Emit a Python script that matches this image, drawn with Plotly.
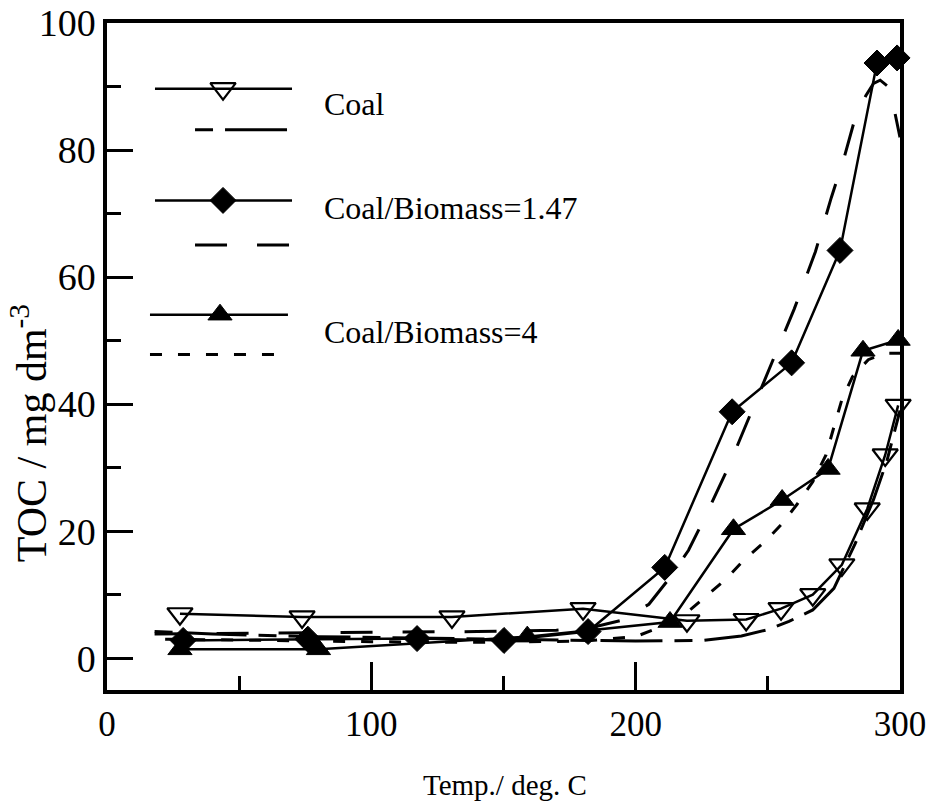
import plotly.graph_objects as go

# ---- measured TOC (solid lines with markers) ----
coal_T = [27.6, 73.8, 130.5, 180.1, 219.4, 241.8, 255.0, 267.0, 278.0, 287.6, 294.4, 299.3]
coal_toc = [7.0, 6.5, 6.5, 7.8, 5.9, 6.1, 7.8, 10.0, 14.7, 23.5, 32.0, 39.8]

b147_T = [28.8, 76.0, 117.3, 150.2, 182.0, 211.0, 236.5, 259.0, 277.3, 291.3, 298.9]
b147_toc = [2.8, 3.0, 3.1, 2.8, 4.2, 14.3, 38.8, 46.5, 64.2, 93.7, 94.5]

b4_T = [27.6, 80.0, 159.0, 213.0, 237.0, 255.4, 272.8, 286.0, 299.3]
b4_toc = [1.4, 1.4, 3.4, 5.7, 20.3, 24.9, 29.8, 48.4, 50.1]

# ---- model curves (dashed) ----
coal_mod_T = [18, 40, 80, 120, 160, 200, 225, 240, 250, 258, 267, 275, 283, 290, 295, 300]
coal_mod_toc = [4.2, 3.8, 3.4, 3.2, 3.0, 2.7, 2.8, 3.5, 4.5, 5.8, 7.6, 11.0, 18.0, 25.0, 31.0, 39.0]

b147_mod_T = [18, 60, 100, 140, 170, 185, 195, 205, 213, 220, 226, 235, 244, 253, 260, 268,
              274, 279, 283, 287, 290, 292.5, 295.5, 297.5, 300]
b147_mod_toc = [3.8, 4.0, 4.1, 4.2, 4.4, 5.0, 6.0, 8.5, 12.7, 17.0, 22.0, 30.0, 39.0, 48.0, 55.0, 64.0,
                72.5, 79.0, 85.0, 88.5, 90.5, 91.0, 90.0, 87.0, 82.0]

b4_mod_T = [22, 60, 100, 140, 180, 200, 210, 220, 226, 234, 241, 249, 255, 261, 267, 272,
            275, 278, 282, 288, 294, 300]
b4_mod_toc = [3.0, 2.8, 2.6, 2.5, 2.7, 3.4, 5.0, 7.4, 9.6, 12.4, 15.5, 18.4, 21.0, 24.2, 27.8, 32.0,
              36.4, 40.7, 44.3, 47.0, 48.0, 48.0]

x_ticks = [0, 100, 200, 300]
y_ticks = [0, 20, 40, 60, 80, 100]

legend_names = ["Coal", "Coal/Biomass=1.47", "Coal/Biomass=4"]

FONT = "Liberation Serif, Times New Roman, serif"
BLACK = "black"

DASH_COAL = "18px,12px,62px,12px"
DASH_147 = "32px,30px"
DASH_4 = "12px,16px"

SYM_COAL = dict(symbol="triangle-down-open", size=22, color=BLACK, line=dict(width=2.2, color=BLACK))
SYM_147 = dict(symbol="diamond", size=20, color=BLACK, line=dict(width=1, color=BLACK))
SYM_4 = dict(symbol="triangle-up", size=21, color=BLACK, line=dict(width=1, color=BLACK))

fig = go.Figure()

# model curves
for T, v, dash in [(coal_mod_T, coal_mod_toc, DASH_COAL),
                   (b147_mod_T, b147_mod_toc, DASH_147),
                   (b4_mod_T, b4_mod_toc, DASH_4)]:
    fig.add_trace(go.Scatter(x=T, y=v, mode="lines", showlegend=False, cliponaxis=False,
                             line=dict(color=BLACK, width=3, dash=dash)))

# measured series
for T, v, mk in [(coal_T, coal_toc, SYM_COAL),
                 (b147_T, b147_toc, SYM_147),
                 (b4_T, b4_toc, SYM_4)]:
    fig.add_trace(go.Scatter(x=T, y=v, mode="lines+markers", showlegend=False, cliponaxis=False,
                             line=dict(color=BLACK, width=2.5), marker=mk))

# hand-drawn key on an overlay axis spanning the plotting area (0..1 both ways)
key_rows = [
    # solid line y, dashed line y, solid x-span, dashed x-span, marker x, text y, marker, dash
    (0.9015, 0.840, (0.0605, 0.2333), (0.111, 0.2333), 0.1463, 0.878, SYM_COAL, DASH_COAL),
    (0.734, 0.667, (0.0605, 0.2333), (0.111, 0.2333), 0.1463, 0.722, SYM_147, DASH_147),
    (0.5627, 0.503, (0.0542, 0.2282), (0.0542, 0.2282), 0.1425, 0.537, SYM_4, DASH_4),
]
for (ys, yd, xs, xd, xm, yt, mk, dash), name in zip(key_rows, legend_names):
    fig.add_trace(go.Scatter(x=list(xs), y=[ys, ys], mode="lines", xaxis="x2", yaxis="y2",
                             showlegend=False, line=dict(color=BLACK, width=2.5)))
    fig.add_trace(go.Scatter(x=[xm], y=[ys], mode="markers", xaxis="x2", yaxis="y2",
                             showlegend=False, marker=mk))
    fig.add_trace(go.Scatter(x=list(xd), y=[yd, yd], mode="lines", xaxis="x2", yaxis="y2",
                             showlegend=False, line=dict(color=BLACK, width=3, dash=dash)))
    fig.add_annotation(x=0.271, y=yt, xref="x2", yref="y2", text=name, showarrow=False,
                       xanchor="left", yanchor="middle", font=dict(family=FONT, size=32, color=BLACK))

fig.update_layout(
    width=926, height=806,
    margin=dict(l=107, r=26, t=23, b=116, autoexpand=False),
    paper_bgcolor="white", plot_bgcolor="white",
    font=dict(family=FONT, color=BLACK),
    xaxis=dict(range=[0, 300], tickvals=x_ticks, ticktext=[str(t) for t in x_ticks],
               ticks="inside", ticklen=28, tickwidth=3, tickcolor=BLACK,
               minor=dict(tickvals=[50, 150, 250], ticks="inside", ticklen=14, tickwidth=3, tickcolor=BLACK),
               showline=True, linewidth=3.5, linecolor=BLACK, mirror=True, automargin=False,
               showgrid=False, zeroline=False, ticklabelstandoff=0, ticklabeloverflow="allow",
               tickfont=dict(family=FONT, size=35, color=BLACK)),
    yaxis=dict(range=[-5, 100], tickvals=y_ticks, ticktext=[str(t) for t in y_ticks],
               ticks="inside", ticklen=26, tickwidth=3, tickcolor=BLACK,
               minor=dict(tickvals=[10, 30, 50, 70, 90], ticks="inside", ticklen=14, tickwidth=3, tickcolor=BLACK),
               showline=True, linewidth=3.5, linecolor=BLACK, mirror=True, automargin=False,
               showgrid=False, zeroline=False, ticklabelstandoff=0, ticklabeloverflow="allow",
               tickfont=dict(family=FONT, size=38, color=BLACK)),
    xaxis2=dict(range=[0, 1], overlaying="x", visible=False, fixedrange=True),
    yaxis2=dict(range=[0, 1], overlaying="y", visible=False, fixedrange=True),
    showlegend=False,
)

fig.add_annotation(x=-0.0984, y=0.385, xref="paper", yref="paper", textangle=-90,
                   text="TOC / mg dm<sup>-3</sup>", showarrow=False,
                   xanchor="center", yanchor="middle", font=dict(family=FONT, size=42, color=BLACK))
fig.add_annotation(x=0.502, y=-0.142, xref="paper", yref="paper",
                   text="Temp./ deg. C", showarrow=False,
                   xanchor="center", yanchor="middle", font=dict(family=FONT, size=29, color=BLACK))

fig.write_html("out.html")
